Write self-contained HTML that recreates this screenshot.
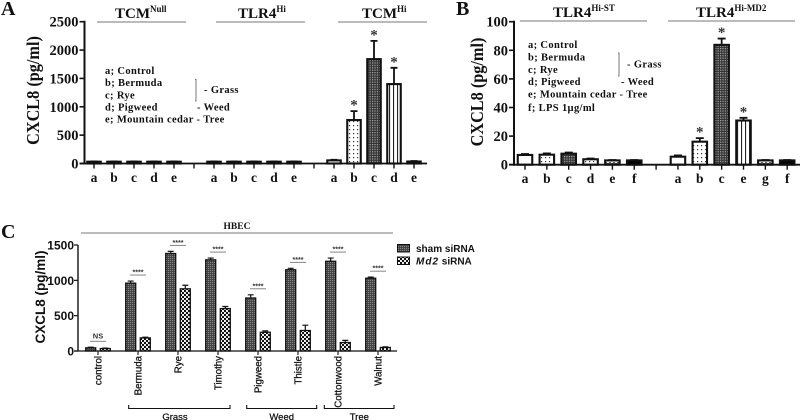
<!DOCTYPE html>
<html lang="en">
<head>
<meta charset="utf-8">
<title>CXCL8 panels</title>
<style>
html,body{margin:0;padding:0;background:#fff;width:800px;height:420px;overflow:hidden}
svg{display:block;filter:blur(.35px)}
.s{font-family:"Liberation Serif",serif;font-weight:bold;fill:#111}
.n{font-family:"Liberation Sans",sans-serif;font-weight:bold;fill:#111}
.r{font-family:"Liberation Sans",sans-serif;fill:#111;stroke:#111;stroke-width:.25}
</style>
</head>
<body>
<svg id="fig" width="800" height="420" viewBox="0 0 800 420" xmlns="http://www.w3.org/2000/svg">
<defs>
<pattern id="p-dots" width="4" height="4" patternUnits="userSpaceOnUse"><rect width="4" height="4" fill="#fff"/><rect x="1" y="1" width="1.2" height="1.2" fill="#333"/></pattern>
<pattern id="p-check" width="2.4" height="2.4" patternUnits="userSpaceOnUse"><rect width="2.4" height="2.4" fill="#333"/><rect width="1.2" height="1.2" fill="#aaa"/></pattern>
<pattern id="p-stripe" width="4" height="4" patternUnits="userSpaceOnUse"><rect width="4" height="4" fill="#fff"/><rect x="1" width="1.1" height="4" fill="#222"/></pattern>
<pattern id="p-wave" width="4" height="3" patternUnits="userSpaceOnUse"><rect width="4" height="3" fill="#fff"/><path d="M0 2L2 0.5L4 2" stroke="#222" fill="none"/></pattern>
<pattern id="p-sham" width="2" height="2" patternUnits="userSpaceOnUse"><rect width="2" height="2" fill="#444"/><rect width="1" height="1" fill="#888"/></pattern>
<pattern id="p-md2" width="4" height="4" patternUnits="userSpaceOnUse"><rect width="4" height="4" fill="#111"/><rect width="2" height="2" fill="#eee"/><rect x="2" y="2" width="2" height="2" fill="#eee"/></pattern>
</defs>

<text class="s" x="1" y="15" font-size="20">A</text>
<text class="s" x="456" y="15" font-size="20">B</text>
<text class="s" x="1" y="238" font-size="20">C</text>

<text class="s" x="115" y="18" font-size="15">TCM<tspan font-size="9" dy="-6">Null</tspan></text>
<text class="s" x="238" y="18" font-size="15">TLR4<tspan font-size="9" dy="-6">Hi</tspan></text>
<text class="s" x="362" y="18" font-size="15">TCM<tspan font-size="9" dy="-6">Hi</tspan></text>
<text class="s" x="553" y="17" font-size="15">TLR4<tspan font-size="9" dy="-6">Hi-ST</tspan></text>
<text class="s" x="696" y="17" font-size="15">TLR4<tspan font-size="9" dy="-6">Hi-MD2</tspan></text>
<g stroke="#777" stroke-width="1">
<line x1="97" x2="186" y1="22" y2="22"/>
<line x1="216" x2="305" y1="22" y2="22"/>
<line x1="338" x2="427" y1="22" y2="22"/>
<line x1="520" x2="647" y1="21" y2="21"/>
<line x1="668" x2="795" y1="21" y2="21"/>
<line x1="81" x2="393" y1="233" y2="233"/>
</g>
<text class="s" x="237" y="229" font-size="9.5" text-anchor="middle">HBEC</text>

<text class="s" transform="translate(39,90.500) rotate(-90) scale(.93,1)" font-size="17.5" text-anchor="middle">CXCL8 (pg/ml)</text>
<text class="s" transform="translate(483,92) rotate(-90) scale(.93,1)" font-size="17.5" text-anchor="middle">CXCL8 (pg/ml)</text>
<text class="n" transform="translate(45,297) rotate(-90)" font-size="13.5" text-anchor="middle">CXCL8 (pg/ml)</text>

<g class="s" font-size="10.5" letter-spacing=".35">
<text class="s" x="105" y="74">a; Control</text>
<text class="s" x="105" y="86">b; Bermuda</text>
<text class="s" x="105" y="98.500">c; Rye</text>
<text class="s" x="105" y="110.500">d; Pigweed</text>
<text class="s" x="105" y="122.500">e; Mountain cedar - Tree</text>
<text class="s" x="204" y="93">- Grass</text>
<text class="s" x="197" y="110.500">- Weed</text>
</g>
<path d="M195 79.500H196V101H195" fill="none" stroke="#777"/>

<g class="s" font-size="10.5" letter-spacing=".35">
<text class="s" x="528" y="48">a; Control</text>
<text class="s" x="528" y="60.500">b; Bermuda</text>
<text class="s" x="528" y="73">c; Rye</text>
<text class="s" x="528" y="85">d; Pigweed</text>
<text class="s" x="528" y="97.500">e; Mountain cedar - Tree</text>
<text class="s" x="528" y="111">f; LPS 1µg/ml</text>
<text class="s" x="627" y="67.500">- Grass</text>
<text class="s" x="621" y="85">- Weed</text>
</g>
<path d="M618 53H619V76H618" fill="none" stroke="#777"/>

<g>
<rect x="397.500" y="244.500" width="12" height="7.500" fill="url(#p-sham)" stroke="#111"/>
<rect x="397.500" y="257" width="12" height="7.500" fill="url(#p-md2)" stroke="#111"/>
<text class="n" x="416" y="252" font-size="10">sham siRNA</text>
<text class="n" x="416" y="264.500" font-size="10"><tspan font-style="italic" letter-spacing="1">Md2</tspan> siRNA</text>
</g>

<g id="chart-a"></g>
<g id="chart-b"></g>
<g id="chart-c"></g>
</svg>

<script>
// Panel A
const catsA = ['a','b','c','d','e','','a','b','c','d','e','','a','b','c','d','e'];
const valsA = [32,32,32,32,32,null,32,32,32,32,32,null,55,766,1840,1400,35];
const errsA = [4,4,4,4,4,null,4,4,4,4,4,null,10,158,322,287,8];
const sigA = [0,0,0,0,0,0,0,0,0,0,0,0,0,1,1,1,0];
const ticksA = [0,500,1000,1500,2000,2500];
const fillsA = ['k','k','k','k','k','','k','k','k','k','k','','w','d','c','s','k'];

// Panel B
const catsB = ['a','b','c','d','e','f','','a','b','c','e','g','f'];
const valsB = [6.8,7,7.7,3.8,3,3,null,5.6,16.1,83.8,30.9,3,3];
const errsB = [0.7,0.9,0.8,0.5,0.3,0.3,null,0.9,2.5,4.4,1.9,0.3,0.3];
const sigB = [0,0,0,0,0,0,0,0,1,1,1,0,0];
const ticksB = [0,20,40,60,80,100];
const fillsB = ['w','d','c','d','v','b','','w','d','c','s','v','b'];

// Panel C
const catsC = ['control','Bermuda','Rye','Timothy','Pigweed','Thistle','Cottonwood','Walnut'];
const shamC = [45,960,1380,1290,750,1150,1270,1030];
const shamErrC = [8,30,30,25,45,20,45,15];
const md2C = [35,185,880,600,265,290,120,50];
const md2ErrC = [6,10,50,30,20,75,30,8];
const sigLabelsC = ['NS','****','****','****','****','****','****','****'];
const ticksC = [0,500,1000,1500];
const groupsC = ['Grass','Weed','Tree'];

const NS = 'http://www.w3.org/2000/svg';
function el(parent, tag, attrs, text) {
  const e = document.createElementNS(NS, tag);
  for (const k in attrs) e.setAttribute(k, attrs[k]);
  if (text !== undefined) e.textContent = text;
  parent.appendChild(e);
  return e;
}
const fillFor = {w:'#fff', d:'url(#p-dots)', c:'url(#p-check)', s:'url(#p-stripe)', k:'#222', v:'url(#p-wave)', b:'#000'};

function drawSerifPanel(rootId, cfg) {
  const root = document.getElementById(rootId);
  const yScale = v => cfg.y0 - (v / cfg.max) * (cfg.y0 - cfg.yTop);
  const xScale = i => cfg.x0 + i * cfg.step;

  cfg.ticks.forEach(t => {
    const tick = el(root, 'line', {x1: cfg.axisX - 5, x2: cfg.axisX, y1: yScale(t), y2: yScale(t), stroke: '#111', 'stroke-width': 1.6});
    
    
    const lab = el(root, 'text', {x: cfg.axisX - 6, y: yScale(t) + 5, 'text-anchor': 'end', 'font-size': 14.5, class: 's'}, t);
    
    
  });

  cfg.cats.forEach((c, i) => {
    const x = xScale(i);
    const tick = el(root, 'line', {x1: x, x2: x, y1: cfg.y0, y2: cfg.y0 + 5, stroke: '#111', 'stroke-width': 1.4});
    
    
    if (c) {
      const lab = el(root, 'text', {x: x, y: cfg.y0 + 18.5, 'text-anchor': 'middle', 'font-size': 13.5, class: 's'}, c);
      
      
    }
    const v = cfg.vals[i];
    if (v === null) return;
    const top = yScale(v);
    const errTop = yScale(v + cfg.errs[i]);
    const eb = el(root, 'path', {d: 'M' + x + ' ' + top + 'V' + errTop + 'M' + (x - cfg.cap) + ' ' + errTop + 'H' + (x + cfg.cap), stroke: '#111', 'stroke-width': 1.8, fill: 'none'});
    
    
    const bar = el(root, 'rect', {x: x - cfg.barW / 2, y: top, width: cfg.barW, height: Math.max(cfg.y0 - top, 0), fill: fillFor[cfg.fills[i]], stroke: '#111', 'stroke-width': 2.1});
    
    
    if (cfg.sig[i]) {
      const star = el(root, 'text', {x: x, y: errTop + cfg.starDy, 'text-anchor': 'middle', 'font-size': 15, class: 's', style: 'fill:#333'}, '*');
      
      
    }
  });

  const yAxis = el(root, 'line', {x1: cfg.axisX, x2: cfg.axisX, y1: cfg.yTop - 1, y2: cfg.y0 + 1, stroke: '#111', 'stroke-width': 2});
  
  
  const xAxis = el(root, 'line', {x1: cfg.axisX - 5, x2: cfg.axisEnd, y1: cfg.y0, y2: cfg.y0, stroke: '#111', 'stroke-width': 1.8});
  
  
}

drawSerifPanel('chart-a', {cats: catsA, vals: valsA, errs: errsA, sig: sigA, ticks: ticksA, fills: fillsA, max: 2500, y0: 163.5, yTop: 21.7, x0: 94, step: 20, axisX: 84.5, axisEnd: 427, barW: 13.5, cap: 3.5, starDy: -1.5});
drawSerifPanel('chart-b', {cats: catsB, vals: valsB, errs: errsB, sig: sigB, ticks: ticksB, fills: fillsB, max: 100, y0: 164.7, yTop: 21.7, x0: 525, step: 21.85, axisX: 514, axisEnd: 800, barW: 14.5, cap: 4, starDy: -1.5});

(function drawC() {
  const root = document.getElementById('chart-c');
  const y0 = 351, yTop = 245, axisX = 78, max = 1500;
  const yScale = v => y0 - (v / max) * (y0 - yTop);
  const xScale = i => 98 + i * 40;
  const off = 7.3, barW = 10;

  ticksC.forEach(t => {
    const tick = el(root, 'line', {x1: axisX - 4, x2: axisX, y1: yScale(t), y2: yScale(t), stroke: '#111', 'stroke-width': 1.2});
    
    
    const lab = el(root, 'text', {x: axisX - 4, y: yScale(t) + 4.5, 'text-anchor': 'end', 'font-size': 12, class: 'n'}, t);
    
    
  });

  function bar(x, v, err, fill, name) {
    const top = yScale(v), errTop = yScale(v + err);
    const eb = el(root, 'path', {d: 'M' + x + ' ' + top + 'V' + errTop + 'M' + (x - 3) + ' ' + errTop + 'H' + (x + 3), stroke: '#111', 'stroke-width': 1.2, fill: 'none'});
    
    
    const r = el(root, 'rect', {x: x - barW / 2, y: top, width: barW, height: y0 - top, fill: fill, stroke: '#111', 'stroke-width': 1.3});
    
    
  }

  catsC.forEach((c, i) => {
    const cx = xScale(i);
    bar(cx - off, shamC[i], shamErrC[i], 'url(#p-sham)', 'bar-sham');
    bar(cx + off, md2C[i], md2ErrC[i], 'url(#p-md2)', 'bar-md2');
    const tick = el(root, 'line', {x1: cx, x2: cx, y1: y0, y2: y0 + 4, stroke: '#111', 'stroke-width': 1.1});
    
    
    const lab = el(root, 'text', {transform: 'translate(' + (cx + 3.5) + ',' + (y0 + 5) + ') rotate(-90)', 'text-anchor': 'end', 'font-size': 9.7, class: 'r'}, c);
    
    
    const topVal = Math.max(shamC[i] + shamErrC[i], md2C[i] + md2ErrC[i]);
    const ly = yScale(topVal) - 6;
    const rule = el(root, 'line', {x1: cx - 8, x2: cx + 8, y1: ly, y2: ly, stroke: '#666', 'stroke-width': 0.8});
    
    
    const sig = el(root, 'text', {x: cx, y: sigLabelsC[i] === 'NS' ? ly - 3 : ly - 0.5, 'text-anchor': 'middle', 'font-size': sigLabelsC[i] === 'NS' ? 7.5 : 7, class: 'n', style: 'fill:#333'}, sigLabelsC[i]);
    
    
  });

  const yAxis = el(root, 'line', {x1: axisX, x2: axisX, y1: yTop, y2: y0, stroke: '#111', 'stroke-width': 1.4});
  
  
  const xAxis = el(root, 'line', {x1: axisX - 4, x2: 397, y1: y0, y2: y0, stroke: '#111', 'stroke-width': 1.2});
  
  

  // Bracket layout for the category groups (left edge, right edge, label centre)
  const bracketLayout = [[128.7, 230, 175], [246.7, 316.7, 281.7], [324.3, 394, 359.3]];
  groupsC.forEach((g, i) => {
    const [a, b, mid] = bracketLayout[i];
    const br = el(root, 'path', {d: 'M' + a + ' 405V408.500H' + b + 'V405', fill: 'none', stroke: '#111', 'stroke-width': 1.1});
    
    
    const t = el(root, 'text', {x: mid, y: 420, 'text-anchor': 'middle', 'font-size': 9.5, class: 'r'}, g);
    
    
  });
})();
</script>
</body>
</html>
